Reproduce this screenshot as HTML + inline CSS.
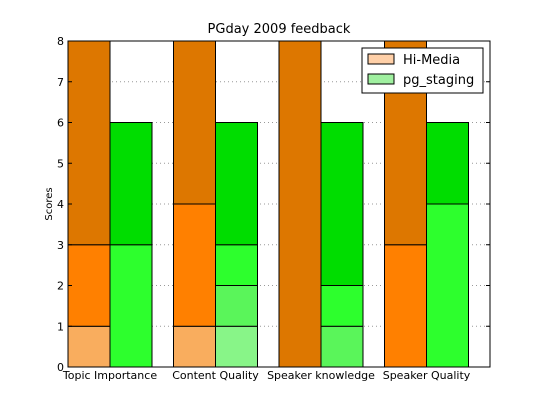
<!DOCTYPE html>
<html><head><meta charset="utf-8"><style>
body{margin:0;background:#fff;}
svg{display:block;font-family:"DejaVu Sans","Liberation Sans",sans-serif;}
</style></head><body>
<svg id="chart" width="544" height="408" xmlns="http://www.w3.org/2000/svg">
<rect width="544" height="408" fill="#fff"/>
<g id="grid"></g><g id="bars"></g><g id="axes"></g>
</svg>
<script>
const categories=["Topic Importance","Content Quality","Speaker knowledge","Speaker Quality"];
const yTicks=[0,1,2,3,4,5,6,7,8];
const hiLevel1=[1,1,0,0];
const hiLevel2=[2,3,0,3];
const hiLevel3=[5,4,8,5];
const pgLevel1=[0,1,0,0];
const pgLevel2=[0,1,1,0];
const pgLevel3=[3,1,1,4];
const pgLevel4=[3,3,4,2];
const NS="http://www.w3.org/2000/svg";
const L=68,R=490,T=41,B=367,yMax=8;
const y=v=>B-(v/yMax)*(B-T);
const gw=(R-L)/4, bw=42;
const xg=i=>L+i*gw;
function mk(tag,attrs,parent){const e=document.createElementNS(NS,tag);for(const k in attrs)e.setAttribute(k,attrs[k]);parent.appendChild(e);return e;}
const grid=document.getElementById('grid'),bars=document.getElementById('bars'),axes=document.getElementById('axes');
yTicks.forEach(t=>{
  if(t>0&&t<yMax){const g=mk('line',{x1:L,x2:R,y1:y(t),y2:y(t),stroke:'#999','stroke-dasharray':'1,3'},grid);
  
  }
  const tx=mk('text',{x:L-4,y:y(t)+4,'font-size':11,'text-anchor':'end'},axes);tx.textContent=t;
  
  
  mk('line',{x1:L,x2:L+4,y1:y(t),y2:y(t),stroke:'#000'},axes);
  mk('line',{x1:R,x2:R-4,y1:y(t),y2:y(t),stroke:'#000'},axes);
});
function stack(series,colors,off,name){
  categories.forEach((c,i)=>{let base=0;series.forEach((s,j)=>{const v=s[i];if(v>0){
    const r=mk('rect',{x:xg(i)+off,y:y(base+v),width:bw,height:y(base)-y(base+v),fill:colors[j],stroke:'#000','stroke-width':1},bars);
    
    
    base+=v;}});});
}
stack([hiLevel1,hiLevel2,hiLevel3],['#f9ad5e','#ff8000','#dd7700'],0,'hi-media');
stack([pgLevel1,pgLevel2,pgLevel3,pgLevel4],['#88f588','#5af55a','#2dff2d','#00dd00'],bw,'pg-staging');
mk('rect',{x:L,y:T,width:R-L,height:B-T,fill:'none',stroke:'#000'},axes);
categories.forEach((c,i)=>{const t=mk('text',{x:xg(i)+bw,y:B+12,'font-size':11,'text-anchor':'middle'},axes);t.textContent=c;
  
  });
const ti=mk('text',{x:(L+R)/2,y:33,'font-size':13,'text-anchor':'middle'},axes);ti.textContent='PGday 2009 feedback';


const yl=mk('text',{x:52,y:(T+B)/2,'font-size':10,'text-anchor':'middle',transform:`rotate(-90 52 ${(T+B)/2})`},axes);yl.textContent='Scores';


const lg=mk('g',{},axes);


mk('rect',{x:362,y:48,width:121,height:45,fill:'#fff',stroke:'#000'},lg);
[['Hi-Media','#ffd0a8',59],['pg_staging','#a0f0a0',79]].forEach(([n,c,yy])=>{
  mk('rect',{x:368,y:yy-5,width:26,height:10,fill:c,stroke:'#000'},lg);
  const t=mk('text',{x:403,y:yy+5,'font-size':13},lg);t.textContent=n;
  
  
});
</script>
</body></html>
